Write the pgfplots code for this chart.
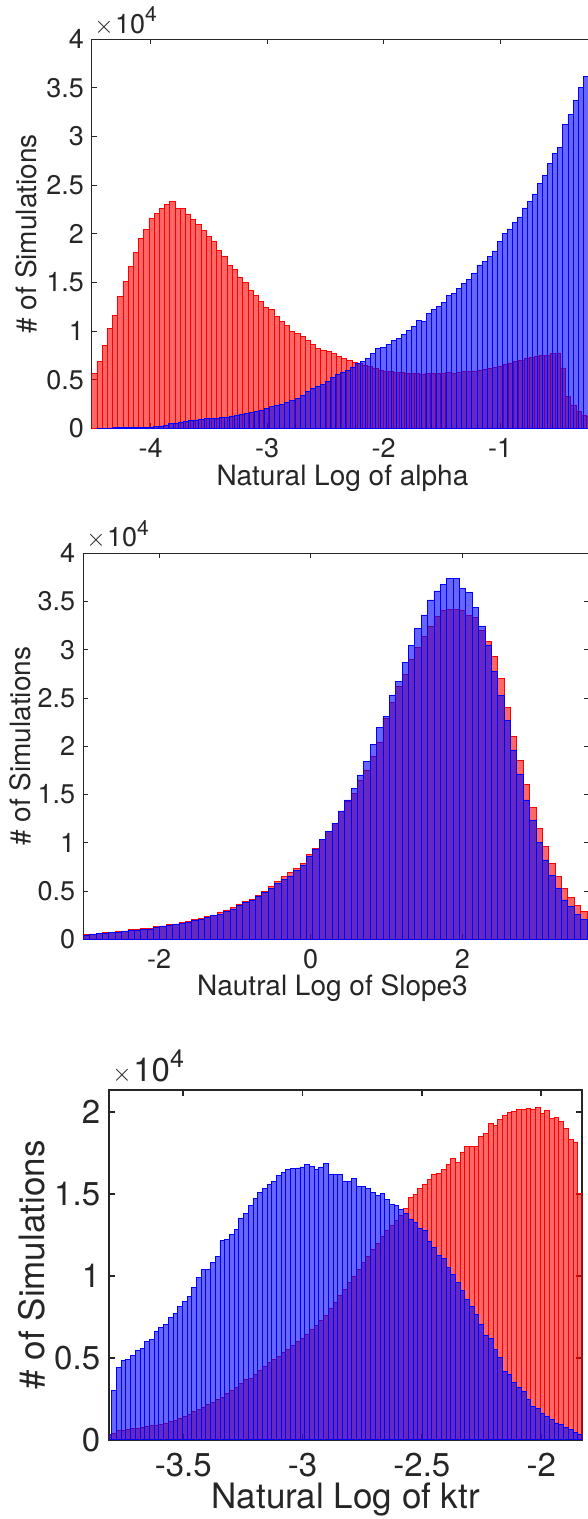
\documentclass[border=0pt]{standalone}
\usepackage{fontspec}
\setmainfont{TeX Gyre Heros}
\usepackage{pgfplots}
\pgfplotsset{compat=1.18}
\usepackage{pgfplotstable}
\definecolor{axgray}{rgb}{0.15,0.15,0.15}
\newcommand\xten[2]{{\fontsize{#1}{#1}\selectfont$\times$\kern0.05em10\raisebox{0.42em}{\fontsize{#2}{#2}\selectfont 4}}}

\pgfplotstableread{
x y
-4.5050 0.567
-4.4603 0.687
-4.4156 0.852
-4.3709 1.023
-4.3262 1.164
-4.2815 1.36
-4.2368 1.507
-4.1921 1.665
-4.1474 1.81
-4.1027 1.95
-4.0580 2.046
-4.0133 2.163
-3.9686 2.208
-3.9239 2.259
-3.8792 2.304
-3.8345 2.328
-3.7898 2.266
-3.7451 2.256
-3.7004 2.204
-3.6557 2.153
-3.6110 2.094
-3.5663 2.036
-3.5216 1.974
-3.4769 1.926
-3.4322 1.827
-3.3875 1.772
-3.3428 1.679
-3.2981 1.631
-3.2534 1.555
-3.2087 1.504
-3.1640 1.421
-3.1193 1.37
-3.0746 1.308
-3.0299 1.246
-2.9852 1.226
-2.9405 1.15
-2.8958 1.099
-2.8511 1.061
-2.8064 0.992
-2.7617 0.972
-2.7170 0.94
-2.6723 0.90
-2.6276 0.86
-2.5829 0.82
-2.5382 0.80
-2.4935 0.79
-2.4488 0.765
-2.4041 0.74
-2.3594 0.715
-2.3147 0.695
-2.2700 0.68
-2.2253 0.665
-2.1806 0.65
-2.1359 0.635
-2.0912 0.62
-2.0465 0.60
-2.0018 0.59
-1.9571 0.58
-1.9124 0.575
-1.8677 0.57
-1.8230 0.565
-1.7783 0.56
-1.7336 0.565
-1.6889 0.555
-1.6442 0.56
-1.5995 0.565
-1.5548 0.56
-1.5101 0.565
-1.4654 0.57
-1.4207 0.565
-1.3760 0.575
-1.3313 0.58
-1.2866 0.585
-1.2419 0.59
-1.1972 0.60
-1.1525 0.61
-1.1078 0.615
-1.0631 0.625
-1.0184 0.64
-0.9737 0.655
-0.9290 0.67
-0.8843 0.69
-0.8396 0.70
-0.7949 0.715
-0.7502 0.725
-0.7055 0.735
-0.6608 0.745
-0.6161 0.75
-0.5714 0.765
-0.5267 0.775
-0.4820 0.62
-0.4373 0.33
-0.3926 0.24
-0.3479 0.17
-0.3032 0.135
-0.2585 0.12
-0.2138 0.12
}\redA

\pgfplotstableread{
x y
-4.4530 0.002
-4.4096 0.002
-4.3662 0.003
-4.3228 0.004
-4.2794 0.004
-4.2360 0.005
-4.1926 0.005
-4.1492 0.006
-4.1058 0.007
-4.0624 0.009
-4.0190 0.012
-3.9756 0.016
-3.9322 0.024
-3.8888 0.034
-3.8454 0.048
-3.8020 0.05
-3.7586 0.065
-3.7152 0.07
-3.6718 0.08
-3.6284 0.086
-3.5850 0.093
-3.5416 0.1
-3.4982 0.103
-3.4548 0.103
-3.4114 0.11
-3.3680 0.113
-3.3246 0.127
-3.2812 0.137
-3.2378 0.147
-3.1944 0.154
-3.1510 0.165
-3.1076 0.178
-3.0642 0.189
-3.0208 0.2
-2.9774 0.223
-2.9340 0.237
-2.8906 0.247
-2.8472 0.264
-2.8038 0.29
-2.7604 0.31
-2.7170 0.336
-2.6736 0.378
-2.6302 0.405
-2.5868 0.429
-2.5434 0.453
-2.5000 0.48
-2.4566 0.52
-2.4132 0.556
-2.3698 0.577
-2.3264 0.594
-2.2830 0.628
-2.2396 0.67
-2.1962 0.687
-2.1528 0.72
-2.1094 0.77
-2.0660 0.817
-2.0226 0.83
-1.9792 0.862
-1.9358 0.9
-1.8924 0.927
-1.8490 0.968
-1.8056 1.003
-1.7622 1.047
-1.7188 1.109
-1.6754 1.102
-1.6320 1.178
-1.5886 1.222
-1.5452 1.257
-1.5018 1.29
-1.4584 1.367
-1.4150 1.39
-1.3716 1.435
-1.3282 1.487
-1.2848 1.535
-1.2414 1.597
-1.1980 1.68
-1.1546 1.72
-1.1112 1.77
-1.0678 1.823
-1.0244 1.92
-0.9810 2.005
-0.9376 2.05
-0.8942 2.118
-0.8508 2.173
-0.8074 2.266
-0.7640 2.331
-0.7206 2.41
-0.6772 2.517
-0.6338 2.6
-0.5904 2.72
-0.5470 2.826
-0.5036 2.884
-0.4602 3.128
-0.4168 3.224
-0.3734 3.372
-0.3300 3.506
-0.2866 3.622
-0.2432 3.725
-0.1998 3.725
}\blueA

\pgfplotstableread{
x b r
-3.0000 0.041 0.052
-2.9159 0.052 0.055
-2.8318 0.059 0.062
-2.7477 0.062 0.069
-2.6636 0.069 0.073
-2.5795 0.073 0.083
-2.4954 0.079 0.086
-2.4113 0.09 0.10
-2.3272 0.097 0.104
-2.2431 0.104 0.11
-2.1590 0.107 0.117
-2.0749 0.121 0.131
-1.9908 0.131 0.138
-1.9067 0.145 0.155
-1.8226 0.152 0.159
-1.7385 0.166 0.176
-1.6544 0.176 0.186
-1.5703 0.20 0.207
-1.4862 0.21 0.217
-1.4021 0.225 0.235
-1.3180 0.245 0.252
-1.2339 0.262 0.283
-1.1498 0.287 0.304
-1.0657 0.314 0.331
-0.9816 0.349 0.366
-0.8975 0.38 0.39
-0.8134 0.408 0.418
-0.7293 0.449 0.459
-0.6452 0.484 0.494
-0.5611 0.528 0.553
-0.4770 0.58 0.597
-0.3929 0.622 0.65
-0.3088 0.656 0.691
-0.2247 0.718 0.736
-0.1406 0.77 0.787
-0.0565 0.864 0.881
0.0276 0.936 0.943
0.1117 1.03 1.036
0.1958 1.116 1.123
0.2799 1.202 1.202
0.3640 1.33 1.33
0.4481 1.444 1.427
0.5322 1.565 1.513
0.6163 1.703 1.651
0.7004 1.841 1.755
0.7845 2.02 1.893
0.8686 2.197 2.045
0.9527 2.307 2.290
1.0368 2.532 2.452
1.1209 2.67 2.618
1.2050 2.87 2.74
1.2891 3.043 2.90
1.3732 3.223 3.025
1.4573 3.361 3.142
1.5414 3.516 3.24
1.6255 3.61 3.35
1.7096 3.679 3.413
1.7937 3.738 3.42
1.8778 3.738 3.42
1.9619 3.637 3.413
2.0460 3.596 3.36
2.1301 3.437 3.333
2.2142 3.247 3.205
2.2983 3.05 3.085
2.3824 2.774 2.93
2.4665 2.525 2.70
2.5506 2.266 2.40
2.6347 1.962 2.10
2.7188 1.713 1.85
2.8029 1.444 1.60
2.8870 1.237 1.37
2.9711 1.005 1.149
3.0552 0.822 0.967
3.1393 0.663 0.788
3.2234 0.528 0.65
3.3075 0.408 0.529
3.3916 0.338 0.43
3.4757 0.26 0.35
3.5598 0.21 0.29
3.6439 0.17 0.25
3.7280 0.17 0.25
}\ptwo

\pgfplotstableread{
x b r
-3.8195 0.03 0.03
-3.7995 0.302 0.04
-3.7798 0.443 0.055
-3.7601 0.484 0.058
-3.7403 0.49 0.062
-3.7206 0.517 0.066
-3.7009 0.545 0.07
-3.6812 0.556 0.075
-3.6615 0.599 0.08
-3.6417 0.613 0.085
-3.6220 0.664 0.09
-3.6023 0.684 0.095
-3.5826 0.705 0.1
-3.5629 0.746 0.11
-3.5431 0.772 0.12
-3.5234 0.811 0.13
-3.5037 0.842 0.14
-3.4840 0.876 0.155
-3.4643 0.93 0.17
-3.4445 0.991 0.185
-3.4248 1.042 0.2
-3.4051 1.042 0.215
-3.3854 1.083 0.23
-3.3657 1.12 0.245
-3.3459 1.216 0.26
-3.3262 1.22 0.28
-3.3065 1.254 0.30
-3.2868 1.281 0.32
-3.2671 1.354 0.345
-3.2473 1.383 0.37
-3.2276 1.43 0.375
-3.2079 1.471 0.40
-3.1882 1.512 0.425
-3.1685 1.532 0.45
-3.1487 1.557 0.47
-3.1290 1.577 0.49
-3.1093 1.614 0.51
-3.0896 1.634 0.53
-3.0699 1.649 0.55
-3.0501 1.657 0.575
-3.0304 1.659 0.60
-3.0107 1.665 0.62
-2.9910 1.681 0.645
-2.9713 1.669 0.675
-2.9515 1.649 0.70
-2.9318 1.665 0.73
-2.9121 1.685 0.76
-2.8924 1.62 0.80
-2.8727 1.618 0.84
-2.8529 1.618 0.88
-2.8332 1.579 0.92
-2.8135 1.579 0.96
-2.7938 1.594 1.00
-2.7741 1.546 1.04
-2.7543 1.546 1.08
-2.7346 1.532 1.12
-2.7149 1.512 1.16
-2.6952 1.491 1.20
-2.6755 1.502 1.24
-2.6557 1.467 1.28
-2.6360 1.436 1.31
-2.6163 1.43 1.34
-2.5966 1.403 1.37
-2.5769 1.383 1.41
-2.5571 1.348 1.481
-2.5374 1.328 1.497
-2.5177 1.287 1.532
-2.4980 1.277 1.559
-2.4783 1.211 1.587
-2.4585 1.175 1.62
-2.4388 1.124 1.628
-2.4191 1.104 1.649
-2.3994 1.052 1.681
-2.3797 1.007 1.716
-2.3599 0.96 1.696
-2.3402 0.909 1.757
-2.3205 0.858 1.788
-2.3008 0.811 1.788
-2.2811 0.762 1.792
-2.2613 0.705 1.849
-2.2416 0.639 1.869
-2.2219 0.619 1.931
-2.2022 0.552 1.921
-2.1825 0.5 1.957
-2.1627 0.419 1.982
-2.1430 0.398 1.996
-2.1233 0.347 2.006
-2.1036 0.317 2.016
-2.0839 0.296 2.016
-2.0641 0.245 2.022
-2.0444 0.204 2.016
-2.0247 0.19 2.029
-2.0050 0.163 1.992
-1.9853 0.143 2.012
-1.9655 0.123 1.961
-1.9458 0.102 1.965
-1.9261 0.092 1.941
-1.9064 0.076 1.9
-1.8867 0.061 1.833
-1.8669 0.047 1.818
-1.8472 0.031 1.506
-1.8275 0.031 1.506
}\pthree

\pgfplotsset{
  mystyle/.style={
    scale only axis, clip=true, ymin=0,
    axis line style={draw=axgray, line width=0.9pt},
    tick style={draw=axgray, line width=0.9pt},
    major tick length=5pt,
    tick align=inside,
    scaled ticks=false,
    /pgf/number format/assume math mode=true,
    tick label style={text=axgray, inner sep=0pt},
    label style={text=axgray, inner sep=0pt},
  },
  redh/.style={ybar interval, fill=red, fill opacity=0.6, draw=red, draw opacity=1, line width=0.8pt},
  blueh/.style={ybar interval, fill=blue, fill opacity=0.6, draw=blue, draw opacity=1, line width=0.8pt},
}

\begin{document}
\begin{tikzpicture}
\path[use as bounding box] (0,0) rectangle (588pt,1519pt);
\clip (0,0) rectangle (588pt,1519pt);

% Panel 1
\begin{axis}[mystyle, name=ax1, at={(91.7pt,1479.7pt)}, anchor=north west,
  width=501.5pt, height=389pt,
  xmin=-4.505, xmax=-0.2, ymax=4,
  xtick={-4,-3,-2,-1}, ytick={0,0.5,1,1.5,2,2.5,3,3.5,4},
  tick label style={font=\fontsize{27}{27}\selectfont},
  xticklabel style={anchor=base, yshift=-29.5pt},
  yticklabel style={anchor=east, xshift=-7.5pt},
  xlabel={Natural Log of alpha}, ylabel={\# of Simulations},
  label style={font=\fontsize{28}{28}\selectfont},
  xlabel style={at={(axis description cs:0.5,-0.1458)}, anchor=base},
  ylabel style={at={(axis description cs:-0.131,0.5)}, anchor=center},
]
\addplot[redh] table[x=x,y=y] {\redA};
\addplot[blueh] table[x=x,y=y] {\blueA};
\end{axis}
\node[anchor=base west, inner sep=0pt, text=axgray] at ([xshift=2.5pt,yshift=6pt]ax1.north west) {\xten{27}{21}};

% Panel 2
\begin{axis}[mystyle, name=ax2, at={(83.3pt,965.7pt)}, anchor=north west,
  width=505.6pt, height=386pt,
  xmin=-3, xmax=3.67, ymax=4,
  xtick={-2,0,2}, ytick={0,0.5,1,1.5,2,2.5,3,3.5,4},
  tick label style={font=\fontsize{27}{27}\selectfont},
  xticklabel style={anchor=base, yshift=-29pt},
  yticklabel style={anchor=east, xshift=-8pt},
  xlabel={Nautral Log of Slope3}, ylabel={\# of Simulations},
  label style={font=\fontsize{28}{28}\selectfont},
  xlabel style={at={(axis description cs:0.4929,-0.1469)}, anchor=base},
  ylabel style={at={(axis description cs:-0.1252,0.5)}, anchor=center},
]
\addplot[redh] table[x=x,y=r] {\ptwo};
\addplot[blueh] table[x=x,y=b] {\ptwo};
\end{axis}
\node[anchor=base west, inner sep=0pt, text=axgray] at ([xshift=2.9pt,yshift=6.6pt]ax2.north west) {\xten{27}{21}};

% Panel 3
\begin{axis}[mystyle, name=ax3, at={(109.3pt,429pt)}, anchor=north west,
  width=473pt, height=349.7pt,
  xmin=-3.8096, xmax=-1.828, ymax=2.135,
  axis line style={draw=axgray, line width=1.8pt},
  tick style={draw=axgray, line width=1.8pt},
  major tick length=6pt,
  xtick={-3.5,-3,-2.5,-2}, ytick={0,0.5,1,1.5,2},
  tick label style={font=\fontsize{33}{33}\selectfont},
  xticklabel style={anchor=base, yshift=-37pt},
  yticklabel style={anchor=east, xshift=-9pt},
  xlabel={Natural Log of ktr}, ylabel={\# of Simulations},
  label style={font=\fontsize{35}{35}\selectfont},
  xlabel style={at={(axis description cs:0.5,-0.1962)}, anchor=base},
  ylabel style={at={(axis description cs:-0.1649,0.5)}, anchor=center},
]
\addplot[redh] table[x=x,y=r] {\pthree};
\addplot[blueh] table[x=x,y=b] {\pthree};
\end{axis}
\node[anchor=base west, inner sep=0pt, text=axgray] at ([xshift=2.9pt,yshift=8.3pt]ax3.north west) {\xten{33}{25}};

\end{tikzpicture}
\end{document}
